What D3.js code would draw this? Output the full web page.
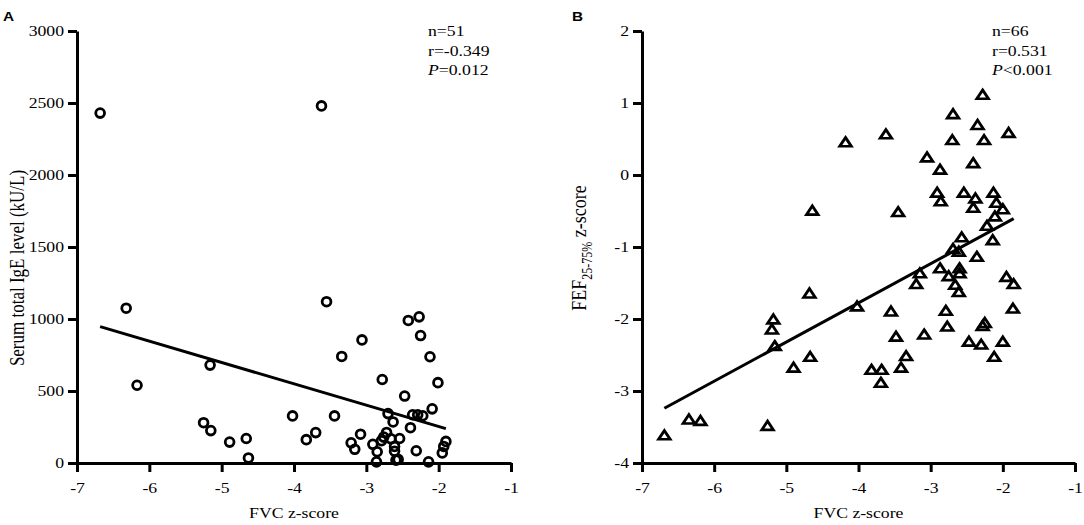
<!DOCTYPE html>
<html>
<head>
<meta charset="utf-8">
<script src="https://cdn.jsdelivr.net/npm/d3@7"></script>
<style>
  body { margin: 0; background: #fff; }
  svg { display: block; }
  text { font-family: "Liberation Serif", "Times New Roman", serif; fill: #000; }
  text.letter { font-family: "Liberation Sans", Arial, sans-serif; font-weight: bold; }
</style>
</head>
<body>
<div id="chart"></div>
<script>
// Panel A: FVC z-score vs serum total IgE (kU/L)
const fvcA = [-6.68, -3.62, -6.32, -3.55, -6.17, -5.16, -5.25, -5.15, -4.89, -4.66,
              -4.63, -4.02, -3.83, -3.70, -3.44, -3.34, -3.06, -2.42, -2.27, -2.25,
              -2.12, -2.78, -2.01, -2.47, -2.09, -2.70, -2.36, -2.29, -2.22, -2.63,
              -2.39, -3.08, -2.72, -2.76, -2.79, -2.66, -2.54, -3.21, -3.16, -2.91,
              -2.85, -2.86, -2.61, -2.61, -2.59, -2.31, -2.14, -1.90, -1.93, -1.95,
              -2.56];
const igeA = [2430, 2480, 1075, 1120, 540, 680, 280, 225, 145, 170,
              35, 327, 162, 211, 327, 740, 855, 990, 1015, 885,
              738, 580, 558, 465, 376, 343, 335, 335, 328, 285,
              245, 200, 212, 180, 155, 168, 170, 140, 95, 130,
              78, 8, 115, 82, 20, 85, 8, 150, 115, 70,
              25];
const fitA = { slope: -148.2, intercept: -43 };
const statsA = ["n=51", "r=-0.349", "=0.012"];

// Panel B: FVC z-score vs FEF25-75% z-score
const fvcB = [-6.69, -6.35, -6.19, -5.26, -5.18, -5.20, -5.16, -4.90, -4.67, -4.68,
              -4.64, -4.18, -4.02, -3.62, -3.55, -3.48, -3.45, -3.82, -3.68, -3.69,
              -3.41, -3.34, -3.15, -3.20, -3.09, -3.05, -2.87, -2.91, -2.86, -2.87,
              -2.79, -2.77, -2.75, -2.70, -2.69, -2.69, -2.61, -2.66, -2.61, -2.60,
              -2.60, -2.57, -2.54, -2.47, -2.41, -2.38, -2.41, -2.36, -2.35, -2.30,
              -2.28, -2.26, -2.28, -2.25, -2.22, -2.13, -2.14, -2.12, -2.09, -2.11,
              -2.00, -2.00, -1.92, -1.95, -1.85, -1.86];
const fefB = [-3.63, -3.41, -3.43, -3.50, -2.02, -2.16, -2.39, -2.69, -2.54, -1.66,
              -0.51, 0.44, -1.84, 0.55, -1.91, -2.26, -0.53, -2.72, -2.72, -2.90,
              -2.69, -2.53, -1.38, -1.53, -2.23, 0.23, 0.06, -0.26, -0.38, -1.31,
              -1.90, -2.12, -1.42, 0.47, 0.83, -1.04, -1.08, -1.54, -1.64, -1.31,
              -1.38, -0.88, -0.26, -2.33, 0.15, -0.34, -0.47, -1.15, 0.68, -2.37,
              1.10, 0.47, -2.11, -2.07, -0.72, -0.26, -0.92, -2.54, -0.40, -0.59,
              -0.49, -2.33, 0.57, -1.43, -1.53, -1.87];
const fitB = { slope: 0.544, intercept: 0.40 };
const statsB = ["n=66", "r=0.531", "<0.001"];

const xTicks = [-7, -6, -5, -4, -3, -2, -1];
const yTicksA = [0, 500, 1000, 1500, 2000, 2500, 3000];
const yTicksB = [-4, -3, -2, -1, 0, 1, 2];

const width = 1084, height = 525;
const plotTop = 31, plotBottom = 463;
const stretch = 1.18;

const svg = d3.select("#chart").append("svg")
  .attr("width", width)
  .attr("height", height);

function drawPanel(o) {
  const x = d3.scaleLinear().domain([-7, -1]).range([o.left, o.right]);
  const y = d3.scaleLinear().domain(d3.extent(o.yTicks)).range([plotBottom, plotTop]);
  const g = svg.append("g");

  const xAxis = g.append("g")
    .attr("transform", `translate(0,${plotBottom})`)
    .call(d3.axisBottom(x).tickValues(xTicks).tickFormat(d => String(d))
      .tickSize(9).tickSizeOuter(0).tickPadding(10));

  const yAxis = g.append("g")
    .attr("transform", `translate(${o.left},0)`)
    .call(d3.axisLeft(y).tickValues(o.yTicks).tickFormat(d => String(d))
      .tickSize(9).tickSizeOuter(0).tickPadding(2));

  for (const ax of [xAxis, yAxis]) {
    ax.select(".domain").attr("stroke-width", 3).attr("stroke", "#000");
    ax.selectAll(".tick line").attr("stroke-width", 3).attr("stroke", "#000");
    ax.selectAll(".tick text")
      .attr("font-size", 15)
      .attr("transform", `scale(${stretch},1)`);
  }

  // regression line
  const xr = d3.extent(o.xs);
  g.append("line")
    .attr("x1", x(xr[0])).attr("y1", y(o.fit.slope * xr[0] + o.fit.intercept))
    .attr("x2", x(xr[1])).attr("y2", y(o.fit.slope * xr[1] + o.fit.intercept))
    .attr("stroke", "#000")
    .attr("stroke-width", 3);

  const pts = o.xs.map((v, i) => [v, o.ys[i]]);
  if (o.shape === "circle") {
    g.append("g").selectAll("circle")
      .data(pts)
      .join("circle")
      .attr("cx", d => x(d[0]))
      .attr("cy", d => y(d[1]))
      .attr("r", 4.4)
      .attr("fill", "none")
      .attr("stroke", "#000")
      .attr("stroke-width", 2.8);
  } else {
    g.append("g").selectAll("path")
      .data(pts)
      .join("path")
      .attr("d", d3.symbol(d3.symbolTriangle, 44))
      .attr("transform", d => `translate(${x(d[0])},${y(d[1])}) scale(1.15,1)`)
      .attr("fill", "none")
      .attr("stroke", "#000")
      .attr("stroke-width", 2.6);
  }

  // axis titles
  g.append("text")
    .attr("transform", `translate(${(o.left + o.right) / 2},518) scale(${stretch},1)`)
    .attr("text-anchor", "middle")
    .attr("font-size", 15)
    .text("FVC z-score");

  const yl = g.append("text")
    .attr("transform", `translate(${o.yLabelX},${o.yLabelY}) rotate(-90) scale(1,${stretch})`)
    .attr("text-anchor", "middle")
    .attr("font-size", o.yLabelSize);
  o.yLabel(yl);

  // stats
  const st = g.append("g").attr("transform", `translate(${o.statX},0)`);
  [36, 55.5, 75].forEach((yy, i) => {
    const t = st.append("text")
      .attr("transform", `translate(0,${yy}) scale(${stretch},1)`)
      .attr("font-size", 15);
    if (i === 2) {
      t.append("tspan").attr("font-style", "italic").text("P");
      t.append("tspan").text(o.stats[i]);
    } else {
      t.text(o.stats[i]);
    }
  });

  // panel letter
  svg.append("text")
    .attr("class", "letter")
    .attr("transform", `translate(${o.letterX},21) scale(${stretch},1)`)
    .attr("font-size", 13)
    .text(o.letter);
}

drawPanel({
  left: 77, right: 511,
  yTicks: yTicksA, xs: fvcA, ys: igeA, fit: fitA, shape: "circle",
  stats: statsA, statX: 428, letter: "A", letterX: 3,
  yLabelX: 24, yLabelY: 268, yLabelSize: 17,
  yLabel: t => t.text("Serum total IgE level (kU/L)")
});

drawPanel({
  left: 642, right: 1075,
  yTicks: yTicksB, xs: fvcB, ys: fefB, fit: fitB, shape: "triangle",
  stats: statsB, statX: 992, letter: "B", letterX: 572,
  yLabelX: 586, yLabelY: 248, yLabelSize: 18,
  yLabel: t => {
    t.append("tspan").text("FEF");
    t.append("tspan").attr("font-size", 12).attr("dy", 5).text("25-75%");
    t.append("tspan").attr("dy", -5).text(" z-score");
  }
});
</script>
</body>
</html>
